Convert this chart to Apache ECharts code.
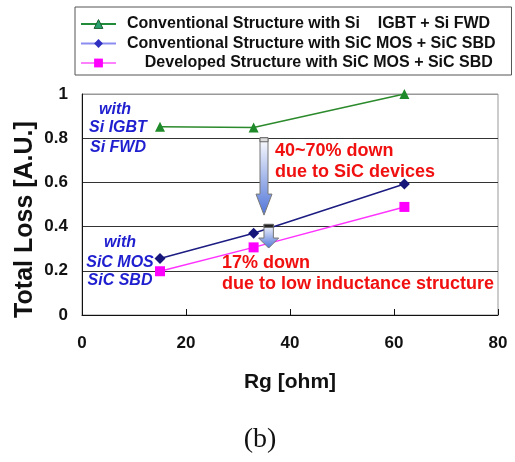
<!DOCTYPE html>
<html>
<head>
<meta charset="utf-8">
<script src="https://cdn.jsdelivr.net/npm/echarts@6/dist/echarts.min.js"></script>
<style>
  html, body { margin: 0; padding: 0; background: #fff; }
  #lossChart { width: 515px; height: 462px; }
</style>
</head>
<body>
<div id="lossChart"></div>
<script>
// Rg values (ohm)
var rgValues = [15, 33, 62];
// total loss, arbitrary units
var lossSiIgbt = [0.852, 0.848, 1.0];
var lossSicConv = [0.256, 0.37, 0.593];
var lossSicDev = [0.198, 0.306, 0.489];
var seriesNames = [
  'Conventional Structure with Si    IGBT + Si FWD',
  'Conventional Structure with SiC MOS + SiC SBD',
  'Developed Structure with SiC MOS + SiC SBD'
];
var xTicks = [0, 20, 40, 60, 80];
var yTicks = [0, 0.2, 0.4, 0.6, 0.8, 1];
// arrows: x, top value, bottom value
var arrowX = [35, 35.9];
var arrowTop = [0.802, 0.41];
var arrowBottom = [0.452, 0.303];

var chart = echarts.init(document.getElementById('lossChart'));
var font = 'Liberation Sans, Arial, sans-serif';

// gradient arrow drawn from data coords
function renderArrow(params, api) {
  var top = api.coord([api.value(0), api.value(1)]);
  var bot = api.coord([api.value(0), api.value(2)]);
  var big = params.dataIndex === 0;
  var sw = big ? 4 : 4.7;   // half shaft
  var hw = big ? 8 : 10;    // half head
  var hl = big ? 21 : 10;   // head length
  var x = top[0];
  var neck = bot[1] - hl;
  var body = {
    type: 'polygon',
    shape: {
      points: [
        [x - sw, top[1]], [x + sw, top[1]], [x + sw, neck], [x + hw, neck],
        [x, bot[1]], [x - hw, neck], [x - sw, neck]
      ]
    },
    style: {
      fill: new echarts.graphic.LinearGradient(0, 0, 0, 1, [
        { offset: 0, color: '#ffffff' },
        { offset: 1, color: '#4f74d8' }
      ]),
      stroke: '#777',
      lineWidth: 1
    }
  };
  // dark cap on top of the shaft
  var cap = {
    type: 'rect',
    shape: { x: x - sw, y: top[1], width: sw * 2, height: big ? 4 : 3 },
    style: { fill: big ? '#ddd' : '#222', stroke: '#666', lineWidth: 1 }
  };
  return { type: 'group', children: [body, cap] };
}

function txt(s, x, y, color, f, align) {
  return {
    type: 'text', x: x, y: y, z: 10,
    style: { text: s, fill: color, font: f, textAlign: align || 'left', textVerticalAlign: 'middle' }
  };
}
var blueFont = 'italic bold 16px ' + font;
var redFont = 'bold 18px ' + font;

chart.setOption({
  animation: false,
  grid: {
    left: 82, right: 17, top: 94, bottom: 147,
    show: true, borderColor: '#999', borderWidth: 1
  },
  legend: {
    orient: 'vertical',
    left: 75, top: 7,
    padding: [9, 16, 4, 5],
    borderColor: '#555', borderWidth: 1,
    itemWidth: 35, itemHeight: 11, itemGap: 3.5,
    textStyle: { fontFamily: font, fontWeight: 'bold', fontSize: 16, color: '#111', lineHeight: 16, padding: [0, 0, 0, 6] },
    formatter: function (name) {
      return name === seriesNames[2] ? '    ' + name : name;
    },
    data: [
      { name: seriesNames[0], itemStyle: { color: '#2aa070', borderColor: '#1b5e2b', borderWidth: 1 }, lineStyle: { color: '#228b3a' } },
      { name: seriesNames[1], itemStyle: { color: '#3030c0' }, lineStyle: { color: '#8c8cf0' } },
      { name: seriesNames[2], itemStyle: { color: '#ff00ff' }, lineStyle: { color: '#ff80ff' } }
    ]
  },
  xAxis: {
    type: 'value', min: 0, max: 80, interval: 20,
    name: 'Rg [ohm]', nameLocation: 'middle', nameGap: 57,
    nameTextStyle: { fontFamily: font, fontWeight: 'bold', fontSize: 21, color: '#111' },
    axisLine: { lineStyle: { color: '#111', width: 1 } },
    axisTick: { inside: true, length: 6, lineStyle: { color: '#111' } },
    axisLabel: { margin: 20, fontFamily: font, fontWeight: 'bold', fontSize: 17, color: '#111',
      customValues: xTicks },
    splitLine: { show: false }
  },
  yAxis: {
    type: 'value', min: 0, max: 1, interval: 0.2,
    name: 'Total Loss [A.U.]', nameLocation: 'middle', nameGap: 44, nameMoveOverlap: false,
    nameTextStyle: { fontFamily: font, fontWeight: 'bold', fontSize: 25, color: '#111', padding: [0, 30, 0, 0] },
    axisLine: { show: true, lineStyle: { color: '#111', width: 1 } },
    axisTick: { show: false },
    axisLabel: { margin: 14, fontFamily: font, fontWeight: 'bold', fontSize: 17, color: '#111',
      customValues: yTicks },
    splitLine: { show: true, lineStyle: { color: ['#333', '#333', '#333', '#333', '#333', '#999'], width: 1 } }
  },
  series: [
    {
      name: seriesNames[0], type: 'line',
      data: rgValues.map(function (x, i) { return [x, lossSiIgbt[i]]; }),
      symbol: 'triangle', symbolSize: 10,
      lineStyle: { color: '#2b8a2b', width: 1.5 },
      itemStyle: { color: '#1f8a2a' }
    },
    {
      name: seriesNames[1], type: 'line',
      data: rgValues.map(function (x, i) { return [x, lossSicConv[i]]; }),
      symbol: 'diamond', symbolSize: 11,
      lineStyle: { color: '#1c1c82', width: 1.5 },
      itemStyle: { color: '#16167a' }
    },
    {
      name: seriesNames[2], type: 'line',
      data: rgValues.map(function (x, i) { return [x, lossSicDev[i]]; }),
      symbol: 'rect', symbolSize: 10,
      lineStyle: { color: '#ff33ff', width: 1.5 },
      itemStyle: { color: '#ff00ff' }
    },
    {
      name: 'arrows', type: 'custom', z: 5,
      renderItem: renderArrow,
      data: arrowX.map(function (x, i) { return [x, arrowTop[i], arrowBottom[i]]; })
    }
  ],
  graphic: [
    txt('with', 115, 110, '#1f1fd0', blueFont, 'center'),
    txt('Si IGBT', 118, 128, '#1f1fd0', blueFont, 'center'),
    txt('Si FWD', 118, 148, '#1f1fd0', blueFont, 'center'),
    txt('with', 120, 243, '#1f1fd0', blueFont, 'center'),
    txt('SiC MOS', 120, 263, '#1f1fd0', blueFont, 'center'),
    txt('SiC SBD', 120, 281, '#1f1fd0', blueFont, 'center'),
    txt('40~70% down', 275, 151, '#f01010', redFont),
    txt('due to SiC devices', 275, 172, '#f01010', redFont),
    txt('17% down', 222, 263, '#f01010', redFont),
    txt('due to low inductance structure', 222, 284, '#f01010', redFont),
    txt('(b)', 260, 440, '#111', '28px Liberation Serif, Times New Roman, serif', 'center')
  ]
});
</script>
</body>
</html>
